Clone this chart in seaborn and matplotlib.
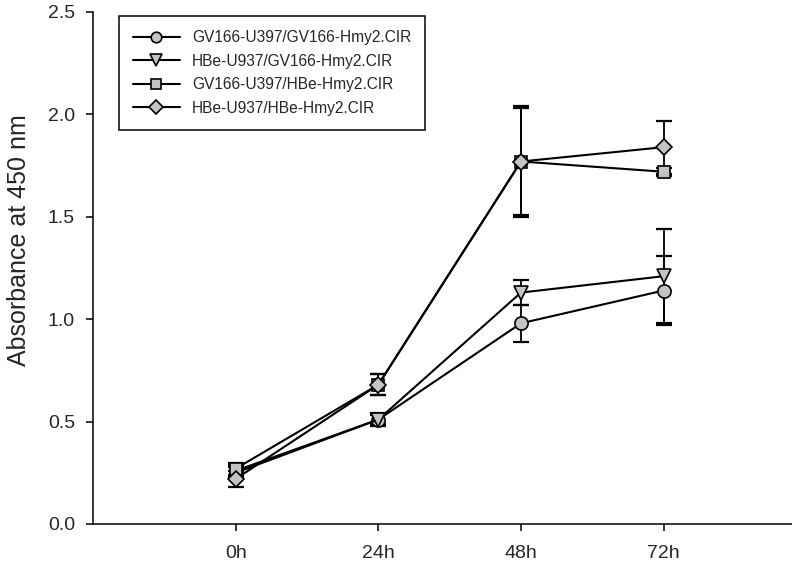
import numpy as np
import pandas as pd
import seaborn as sns
import matplotlib.pyplot as plt

# Datos
tiempos = ["0h", "24h", "48h", "72h"]
grupos = ["GV166-U397/GV166-Hmy2.CIR", "HBe-U937/GV166-Hmy2.CIR",
          "GV166-U397/HBe-Hmy2.CIR", "HBe-U937/HBe-Hmy2.CIR"]

circulo = [0.25, 0.51, 0.98, 1.14]
circulo_err = [0.03, 0.02, 0.09, 0.17]
triangulo = [0.26, 0.51, 1.13, 1.21]
triangulo_err = [0.03, 0.03, 0.06, 0.23]
cuadrado = [0.27, 0.68, 1.77, 1.72]
cuadrado_err = [0.03, 0.05, 0.26, 0.02]
rombo = [0.22, 0.68, 1.77, 1.84]
rombo_err = [0.04, 0.05, 0.27, 0.13]

valores = [circulo, triangulo, cuadrado, rombo]
errores = [circulo_err, triangulo_err, cuadrado_err, rombo_err]
marcadores = ["o", "v", "s", "D"]
tam_marcador = [9.5, 10, 8.5, 8.5]

sns.set_style("ticks")
plt.rcParams["font.family"] = ["Liberation Sans", "DejaVu Sans"]

fig = plt.figure(figsize=(7.92, 5.63), dpi=100)
ax = fig.add_axes([93 / 792, 39 / 563, (792 - 93) / 792, (524 - 12) / 563])

for nombre, y, e, m, ms in zip(grupos, valores, errores, marcadores, tam_marcador):
    df = pd.DataFrame({"tiempo": tiempos, "abs": y})
    ax.errorbar(df["tiempo"], df["abs"], yerr=e, fmt="none", ecolor="black",
                elinewidth=1.3, capsize=5.5, capthick=1.6, zorder=2)
    sns.lineplot(data=df, x="tiempo", y="abs", ax=ax, color="black",
                 linewidth=1.5, marker=m, markersize=ms,
                 markerfacecolor="#c4c4c4", markeredgecolor="black",
                 markeredgewidth=1.2, label=nombre, zorder=3)

ax.set_xlim(-1, 3.9)
ax.set_ylim(0, 2.5)
ax.set_yticks([0, 0.5, 1.0, 1.5, 2.0, 2.5])
ax.set_yticklabels(["0.0", "0.5", "1.0", "1.5", "2.0", "2.5"])
ax.set_xlabel("")
ax.set_ylabel("Absorbance at 450 nm", fontsize=18)
ax.yaxis.set_label_coords(-0.088, 0.555)
ax.tick_params(axis="both", labelsize=14, length=5, width=1.1, color="black",
               direction="out")
ax.tick_params(axis="y", pad=8)
ax.tick_params(axis="x", pad=10)
sns.despine(ax=ax)
for lado in ["left", "bottom"]:
    ax.spines[lado].set_linewidth(1.1)
    ax.spines[lado].set_color("black")

ax.legend(loc="upper left", bbox_to_anchor=(0.037, 0.992), borderaxespad=0,
          fontsize=11.2, frameon=True, fancybox=False, edgecolor="black",
          framealpha=1, handlelength=3.0, labelspacing=0.55, borderpad=0.9,
          handletextpad=0.8, markerscale=0.8)
ax.get_legend().get_frame().set_linewidth(1.1)

plt.savefig("out.png", dpi=100)
plt.close()
